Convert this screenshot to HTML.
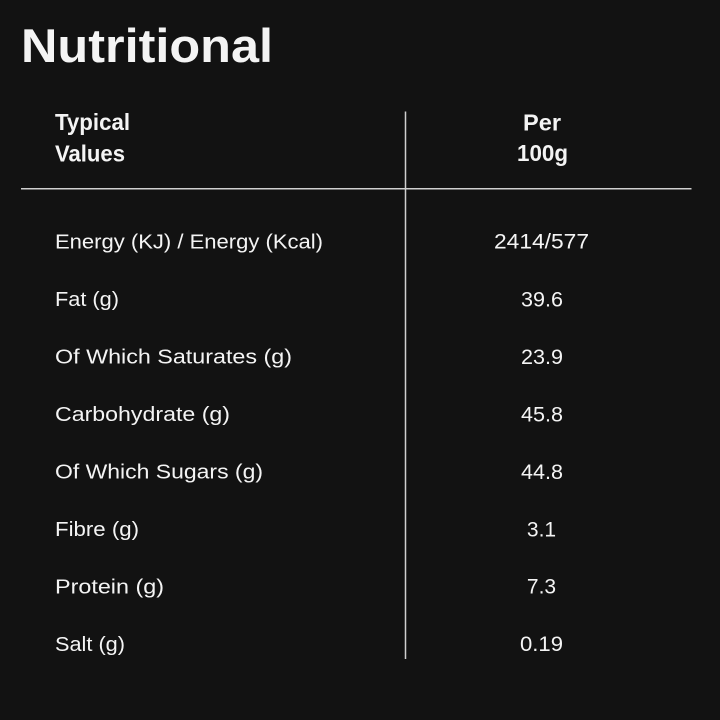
<!DOCTYPE html>
<html>
<head>
<meta charset="utf-8">
<style>
html,body{margin:0;padding:0;background:#121212;}
svg{display:block;}
text{font-family:"Liberation Sans",sans-serif;fill:#f4f4f4;}
.b{font-weight:bold;}
.l{font-size:20px;}
.v{font-size:21px;}
</style>
</head>
<body>
<svg width="720" height="720" viewBox="0 0 720 720" xmlns="http://www.w3.org/2000/svg">
<rect width="720" height="720" fill="#121212"/>
<text class="b" x="21" y="62" style="font-size:47px" textLength="252" lengthAdjust="spacingAndGlyphs">Nutritional</text>

<text class="b" x="55" y="130" style="font-size:23px" textLength="75" lengthAdjust="spacingAndGlyphs">Typical</text>
<text class="b" x="55" y="161.5" style="font-size:23px" textLength="70" lengthAdjust="spacingAndGlyphs">Values</text>
<text class="b" x="523" y="130.5" style="font-size:23px" textLength="38" lengthAdjust="spacingAndGlyphs">Per</text>
<text class="b" x="517" y="161" style="font-size:23px" textLength="51" lengthAdjust="spacingAndGlyphs">100g</text>

<line x1="21" y1="188.8" x2="691.5" y2="188.8" stroke="#cfcfcf" stroke-width="1.5"/>
<line x1="405.5" y1="111.5" x2="405.5" y2="659" stroke="#cfcfcf" stroke-width="1.5"/>

<text class="l" x="55" y="248.3" textLength="268" lengthAdjust="spacingAndGlyphs">Energy (KJ) / Energy (Kcal)</text>
<text class="l" x="55" y="305.8" textLength="64" lengthAdjust="spacingAndGlyphs">Fat (g)</text>
<text class="l" x="55" y="363.3" textLength="237" lengthAdjust="spacingAndGlyphs">Of Which Saturates (g)</text>
<text class="l" x="55" y="420.8" textLength="175" lengthAdjust="spacingAndGlyphs">Carbohydrate (g)</text>
<text class="l" x="55" y="478.3" textLength="208" lengthAdjust="spacingAndGlyphs">Of Which Sugars (g)</text>
<text class="l" x="55" y="535.8" textLength="84" lengthAdjust="spacingAndGlyphs">Fibre (g)</text>
<text class="l" x="55" y="593.3" textLength="109" lengthAdjust="spacingAndGlyphs">Protein (g)</text>
<text class="l" x="55" y="650.8" textLength="70" lengthAdjust="spacingAndGlyphs">Salt (g)</text>

<text class="v" x="494" y="248.3" textLength="95" lengthAdjust="spacingAndGlyphs">2414/577</text>
<text class="v" x="521" y="306.3" textLength="42" lengthAdjust="spacingAndGlyphs">39.6</text>
<text class="v" x="521" y="363.8" textLength="42" lengthAdjust="spacingAndGlyphs">23.9</text>
<text class="v" x="521" y="421.3" textLength="42" lengthAdjust="spacingAndGlyphs">45.8</text>
<text class="v" x="521" y="478.8" textLength="42" lengthAdjust="spacingAndGlyphs">44.8</text>
<text class="v" x="541.5" y="536.3" text-anchor="middle">3.1</text>
<text class="v" x="541.5" y="593.5" text-anchor="middle">7.3</text>
<text class="v" x="520" y="651" textLength="43" lengthAdjust="spacingAndGlyphs">0.19</text>
</svg>
</body>
</html>
